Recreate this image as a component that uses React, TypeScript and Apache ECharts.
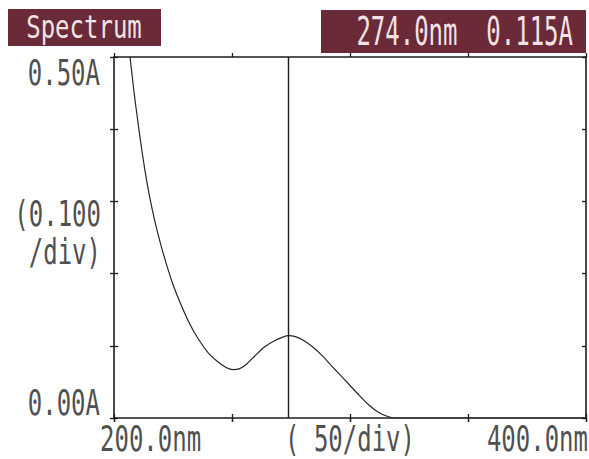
import React, { useEffect, useRef } from "react";
import * as echarts from "echarts";

// Spectrum data (wavelength in nm, absorbance in A)
const wavelengths = [
  206.8, 208.0, 209.0, 211.0, 213.0, 215.0, 217.5, 220.0, 222.5, 225.0, 228.0,
  232.0, 236.0, 240.0, 244.0, 247.5, 250.5, 253.0, 256.0, 260.0, 264.0, 268.0,
  271.5, 274.0, 276.5, 280.0, 284.0, 288.0, 292.0, 296.0, 300.0, 304.0, 308.0,
  312.0, 316.0, 319.0, 330, 350, 375, 400,
];
const absorbance = [
  0.5, 0.465, 0.438, 0.389, 0.345, 0.308, 0.27, 0.238, 0.21, 0.185, 0.16,
  0.131, 0.108, 0.09, 0.078, 0.07, 0.067, 0.068, 0.074, 0.087, 0.099, 0.107,
  0.112, 0.114, 0.113, 0.108, 0.099, 0.087, 0.073, 0.059, 0.045, 0.031, 0.018,
  0.008, 0.002, 0, 0, 0, 0, 0,
];

// Axis ranges and labels
const xMin = 200;
const xMax = 400;
const xStep = 50;
const yMin = 0;
const yMax = 0.5;
const yStep = 0.1;
const xLabelLeft = "200.0nm";
const xLabelMid = "( 50/div)";
const xLabelRight = "400.0nm";
const yLabelTop = "0.50A";
const yLabelBottom = "0.00A";
const yLabelMid = ["(0.100", " /div)"];
const titleText = "Spectrum";
const cursorNm = 274.0;
const cursorAbs = 0.115;

const FONT = '24px "DejaVu Sans Mono"';
const INK = "#505050";
const BOX = "#6a2a37";
const BOX_TEXT = "#f2e2e6";
const AXIS = "#1c1c1c";

export default function App() {
  const ref = useRef<HTMLDivElement>(null);

  useEffect(() => {
    const chart = echarts.init(ref.current!, null, { renderer: "svg" });

    const xBase = {
      type: "value",
      min: xMin,
      max: xMax,
      interval: xStep,
      splitLine: { show: false },
      axisLabel: { show: false },
    };
    const yBase = {
      type: "value",
      min: yMin,
      max: yMax,
      interval: yStep,
      splitLine: { show: false },
      axisLabel: { show: false },
    };
    const line = { show: true, onZero: false, lineStyle: { color: AXIS, width: 1.6 } };
    const noLine = { show: false };
    const tickOut = { show: true, inside: false, length: 4, lineStyle: { color: AXIS, width: 1.3 } };
    const tickIn = { show: true, inside: true, length: 4, lineStyle: { color: AXIS, width: 1.3 } };

    const option: any = {
      animation: false,
      backgroundColor: "#ffffff",
      grid: { left: 114, right: 3, top: 57, bottom: 41 },
      xAxis: [
        { ...xBase, position: "bottom", axisLine: line, axisTick: tickOut },
        { ...xBase, position: "bottom", axisLine: noLine, axisTick: tickIn },
        { ...xBase, position: "top", axisLine: line, axisTick: tickOut },
        { ...xBase, position: "top", axisLine: noLine, axisTick: tickIn },
      ],
      yAxis: [
        { ...yBase, position: "left", axisLine: line, axisTick: tickOut },
        { ...yBase, position: "left", axisLine: noLine, axisTick: tickIn },
        { ...yBase, position: "right", axisLine: line, axisTick: tickIn },
      ],
      series: [
        {
          type: "line",
          xAxisIndex: 0,
          yAxisIndex: 0,
          data: wavelengths.map((w, i) => [w, absorbance[i]]),
          showSymbol: false,
          smooth: 0.2,
          clip: true,
          lineStyle: { color: "#262626", width: 1.2 },
          markLine: {
            silent: true,
            symbol: ["none", "none"],
            label: { show: false },
            lineStyle: { color: AXIS, type: "solid", width: 1.4 },
            data: [{ xAxis: cursorNm }],
          },
        },
      ],
    };
    chart.setOption(option);

    const px = (x: number, y: number) =>
      chart.convertToPixel({ xAxisIndex: 0, yAxisIndex: 0 }, [x, y]) as number[];

    const label = (
      text: string,
      x: number,
      y: number,
      align: string,
      sy: number,
      fill: string = INK,
      lh?: number
    ) => ({
      type: "text",
      x,
      y,
      scaleX: 1,
      scaleY: sy,
      z: 10,
      style: {
        text,
        font: FONT,
        fill,
        align,
        textAlign: align,
        verticalAlign: "middle",
        textVerticalAlign: "middle",
        lineHeight: lh,
      },
    });

    const pTop = px(xMin, yMax);
    const pBot = px(xMin, yMin);
    const pMidY = px(xMin, (yMin + yMax) / 2);
    const pRight = px(xMax, yMin);
    const pMidX = px((xMin + xMax) / 2, yMin);

    const readout = `${cursorNm.toFixed(1)}nm  ${cursorAbs.toFixed(3)}A`;

    chart.setOption({
      graphic: [
        { type: "rect", z: 5, shape: { x: 8, y: 9, width: 153, height: 37 }, style: { fill: BOX } },
        { type: "rect", z: 5, shape: { x: 321, y: 10, width: 265, height: 43 }, style: { fill: BOX } },
        label(titleText, 84, 27, "center", 1.35, BOX_TEXT),
        label(readout, 573, 32, "right", 1.6, BOX_TEXT),
        label(yLabelTop, pTop[0] - 14, pTop[1] + 16, "right", 1.5),
        label(yLabelBottom, pBot[0] - 14, pBot[1] - 15, "right", 1.5),
        label(yLabelMid.join("\n"), pMidY[0] - 13, pMidY[1] - 5, "right", 1.5, INK, 25),
        label(xLabelLeft, pBot[0] - 14, pBot[1] + 21, "left", 1.5),
        label(xLabelMid, pMidX[0], pMidX[1] + 21, "center", 1.5),
        label(xLabelRight, pRight[0] + 2, pRight[1] + 21, "right", 1.5),
      ],
    });

    return () => chart.dispose();
  }, []);

  return (
    <div
      ref={ref}
      style={{ position: "fixed", left: 0, top: 0, width: 589, height: 459, background: "#fff" }}
    />
  );
}
